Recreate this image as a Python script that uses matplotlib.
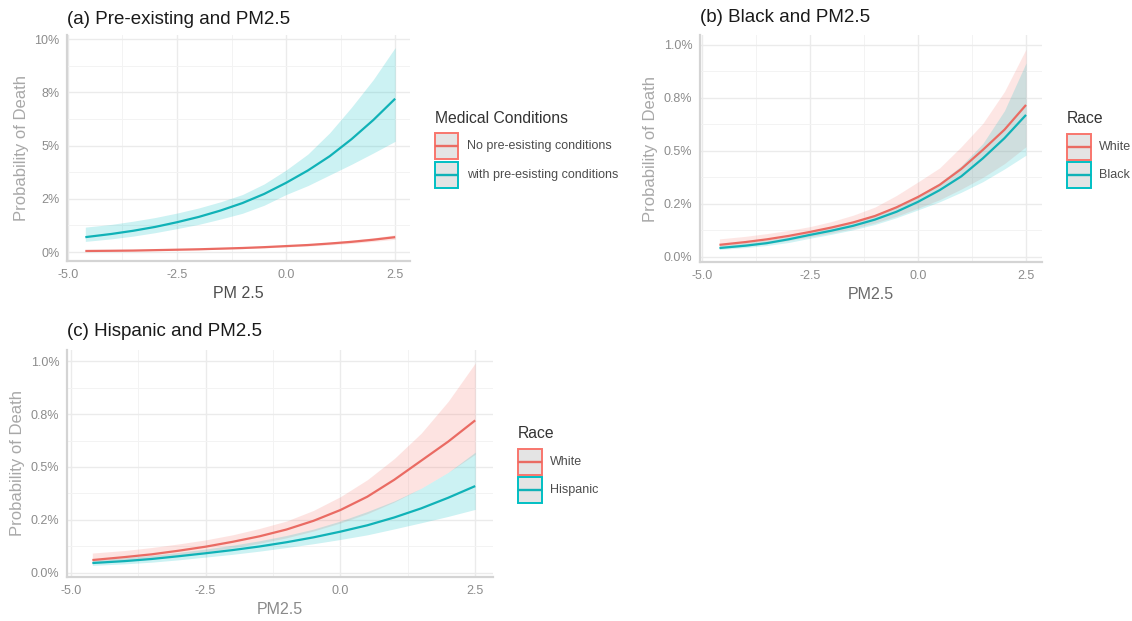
import matplotlib
matplotlib.use("Agg")
import matplotlib.pyplot as plt
from matplotlib.patches import Rectangle
from matplotlib.lines import Line2D

plt.rcParams['font.family'] = ['Liberation Sans', 'DejaVu Sans']

# ---------------- data (probabilities in %) ----------------
pm = [-4.6, -4.0, -3.5, -3.0, -2.5, -2.0, -1.5, -1.0, -0.5, 0.0, 0.5, 1.0, 1.5, 2.0, 2.5]

# (a) pre-existing conditions
a_no_fit = [0.05, 0.06, 0.07, 0.09, 0.11, 0.13, 0.16, 0.19, 0.23, 0.28, 0.33, 0.40, 0.48, 0.58, 0.70]
a_no_lo = [0.04, 0.05, 0.06, 0.075, 0.09, 0.11, 0.135, 0.16, 0.195, 0.24, 0.28, 0.34, 0.41, 0.50, 0.60]
a_no_hi = [0.065, 0.075, 0.085, 0.105, 0.13, 0.155, 0.185, 0.22, 0.27, 0.32, 0.38, 0.46, 0.56, 0.67, 0.81]
a_yes_fit = [0.70, 0.85, 1.00, 1.18, 1.40, 1.65, 1.95, 2.30, 2.73, 3.25, 3.83, 4.50, 5.30, 6.20, 7.20]
a_yes_lo = [0.50, 0.62, 0.75, 0.91, 1.10, 1.30, 1.55, 1.82, 2.20, 2.70, 3.12, 3.62, 4.12, 4.65, 5.20]
a_yes_hi = [1.17, 1.30, 1.45, 1.62, 1.83, 2.07, 2.36, 2.70, 3.20, 3.85, 4.60, 5.60, 6.80, 8.10, 9.60]

# (b) White vs Black
b_white_fit = [0.057, 0.070, 0.083, 0.099, 0.118, 0.139, 0.163, 0.193, 0.234, 0.283, 0.340, 0.415, 0.505, 0.600, 0.717]
b_white_lo = [0.040, 0.050, 0.062, 0.077, 0.095, 0.113, 0.135, 0.160, 0.192, 0.230, 0.270, 0.320, 0.375, 0.440, 0.520]
b_white_hi = [0.085, 0.097, 0.110, 0.125, 0.143, 0.167, 0.197, 0.235, 0.290, 0.354, 0.420, 0.520, 0.630, 0.780, 0.980]
b_black_fit = [0.042, 0.053, 0.065, 0.083, 0.104, 0.124, 0.147, 0.176, 0.213, 0.260, 0.315, 0.380, 0.465, 0.560, 0.670]
b_black_lo = [0.035, 0.044, 0.054, 0.068, 0.088, 0.107, 0.128, 0.153, 0.185, 0.222, 0.260, 0.305, 0.355, 0.415, 0.480]
b_black_hi = [0.057, 0.068, 0.080, 0.097, 0.118, 0.140, 0.167, 0.200, 0.240, 0.290, 0.350, 0.430, 0.535, 0.690, 0.915]

# (c) White vs Hispanic
c_white_fit = [0.061, 0.075, 0.088, 0.105, 0.124, 0.147, 0.173, 0.205, 0.246, 0.297, 0.360, 0.440, 0.530, 0.620, 0.720]
c_white_lo = [0.045, 0.055, 0.066, 0.081, 0.100, 0.118, 0.140, 0.166, 0.198, 0.236, 0.280, 0.335, 0.400, 0.475, 0.560]
c_white_hi = [0.094, 0.106, 0.120, 0.137, 0.156, 0.180, 0.210, 0.245, 0.295, 0.360, 0.440, 0.540, 0.660, 0.810, 0.990]
c_hisp_fit = [0.047, 0.056, 0.066, 0.079, 0.093, 0.108, 0.125, 0.145, 0.168, 0.195, 0.225, 0.262, 0.305, 0.355, 0.410]
c_hisp_lo = [0.036, 0.043, 0.051, 0.062, 0.075, 0.088, 0.103, 0.120, 0.138, 0.158, 0.180, 0.208, 0.237, 0.267, 0.300]
c_hisp_hi = [0.061, 0.072, 0.083, 0.097, 0.113, 0.131, 0.152, 0.177, 0.207, 0.245, 0.290, 0.340, 0.400, 0.475, 0.570]

x_ticks = [-5.0, -2.5, 0.0, 2.5]
x_ticklabels = ['-5.0', '-2.5', '0.0', '2.5']
a_yticks = [0, 2.5, 5, 7.5, 10]
a_yticklabels = ['0%', '2%', '5%', '8%', '10%']
bc_yticks = [0, 0.25, 0.5, 0.75, 1.0]
bc_yticklabels = ['0.0%', '0.2%', '0.5%', '0.8%', '1.0%']

titles = ['(a) Pre-existing and PM2.5', '(b) Black and PM2.5', '(c) Hispanic and PM2.5']
xlabels = ['PM 2.5', 'PM2.5', 'PM2.5']
legend_titles = ['Medical Conditions', 'Race', 'Race']
a_labels = ['No pre-esisting conditions', 'with pre-esisting conditions']
b_labels = ['White', 'Black']
c_labels = ['White', 'Hispanic']

RED = '#F8766D'
TEAL = '#00BFC4'
RED_LINE = '#EA6B63'
TEAL_LINE = '#10B2B7'

W, H = 1132, 621
fig = plt.figure(figsize=(W / 100, H / 100), dpi=100)


def fig_rect(l, t, r, b):
    return [l / W, 1 - b / H, (r - l) / W, (b - t) / H]


def style_axes(ax, yticks, yticklabels, ylim, xlim, xlabel, xlabel_color, title, tpad):
    ax.set_xlim(*xlim)
    ax.set_ylim(*ylim)
    ax.set_xticks(x_ticks)
    ax.set_xticklabels(x_ticklabels)
    ax.set_xticks([-3.75, -1.25, 1.25], minor=True)
    ax.set_yticks(yticks)
    ax.set_yticklabels(yticklabels)
    mids = [(yticks[i] + yticks[i + 1]) / 2 for i in range(len(yticks) - 1)]
    ax.set_yticks(mids, minor=True)
    ax.grid(which='major', color='#EBEBEB', lw=1.0)
    ax.grid(which='minor', color='#F3F3F3', lw=0.7)
    ax.set_axisbelow(True)
    for s in ['top', 'right']:
        ax.spines[s].set_visible(False)
    for s in ['left', 'bottom']:
        ax.spines[s].set_color('#D4D4D4')
        ax.spines[s].set_linewidth(1.6)
    ax.tick_params(which='both', length=0, labelsize=9, labelcolor='#8C8C8C', pad=5.5)
    ax.set_xlabel(xlabel, fontsize=11.5, color=xlabel_color, labelpad=4)
    ax.set_ylabel('Probability of Death', fontsize=12, color='#A8A8A8', labelpad=4)
    ax.set_title(title, loc='left', fontsize=13.5, color='#1A1A1A', pad=tpad)


def band(ax, lo, hi, fit, fc, lc, alpha=0.2):
    ax.fill_between(pm, lo, hi, color=fc, alpha=alpha, lw=0)
    ax.plot(pm, fit, color=lc, lw=1.6, solid_capstyle='butt')


def add_legend(labels, title, x, title_base, key_tops, key_w=24, key_h=26, text_dx=32):
    fig.text(x / W, 1 - title_base / H, title, fontsize=11.3, color='#333333',
             ha='left', va='baseline')
    for lab, top, ec, lc in zip(labels, key_tops, [RED, TEAL], [RED_LINE, TEAL_LINE]):
        rect = Rectangle((x / W, 1 - (top + key_h) / H), key_w / W, key_h / H,
                         transform=fig.transFigure, facecolor='#E4E4E4',
                         edgecolor=ec, lw=1.4)
        fig.add_artist(rect)
        ym = 1 - (top + key_h / 2) / H
        fig.add_artist(Line2D([(x + 1) / W, (x + key_w - 1) / W], [ym, ym],
                              transform=fig.transFigure, color=lc, lw=1.7))
        fig.text((x + text_dx) / W, ym, lab, fontsize=9, color='#4D4D4D',
                 ha='left', va='center')


# (a)
ax_a = fig.add_axes(fig_rect(67, 35, 410, 261))
band(ax_a, a_no_lo, a_no_hi, a_no_fit, RED, RED_LINE)
band(ax_a, a_yes_lo, a_yes_hi, a_yes_fit, TEAL, TEAL_LINE)
style_axes(ax_a, a_yticks, a_yticklabels, (-0.42, 10.19), (-5.02, 2.84),
           xlabels[0], '#4D4D4D', titles[0], 8)
add_legend(a_labels, legend_titles[0], 435, 123, [133, 162], key_w=23)

# (b)
ax_b = fig.add_axes(fig_rect(700, 35, 1042, 262))
band(ax_b, b_white_lo, b_white_hi, b_white_fit, RED, RED_LINE, alpha=0.18)
band(ax_b, b_black_lo, b_black_hi, b_black_fit, TEAL, TEAL_LINE, alpha=0.18)
style_axes(ax_b, bc_yticks, bc_yticklabels, (-0.024, 1.047), (-5.05, 2.87),
           xlabels[1], '#6A6A6A', titles[1], 9.5)
add_legend(b_labels, legend_titles[1], 1067, 123, [134, 162], key_w=24, text_dx=32)

# (c)
ax_c = fig.add_axes(fig_rect(67, 350, 493, 577))
band(ax_c, c_white_lo, c_white_hi, c_white_fit, RED, RED_LINE)
band(ax_c, c_hisp_lo, c_hisp_hi, c_hisp_fit, TEAL, TEAL_LINE)
style_axes(ax_c, bc_yticks, bc_yticklabels, (-0.019, 1.052), (-5.07, 2.83),
           xlabels[2], '#8A8A8A', titles[2], 10)
add_legend(c_labels, legend_titles[2], 518, 438, [449, 477], key_w=24, text_dx=32)

fig.savefig('out.png', dpi=100, facecolor='white')
